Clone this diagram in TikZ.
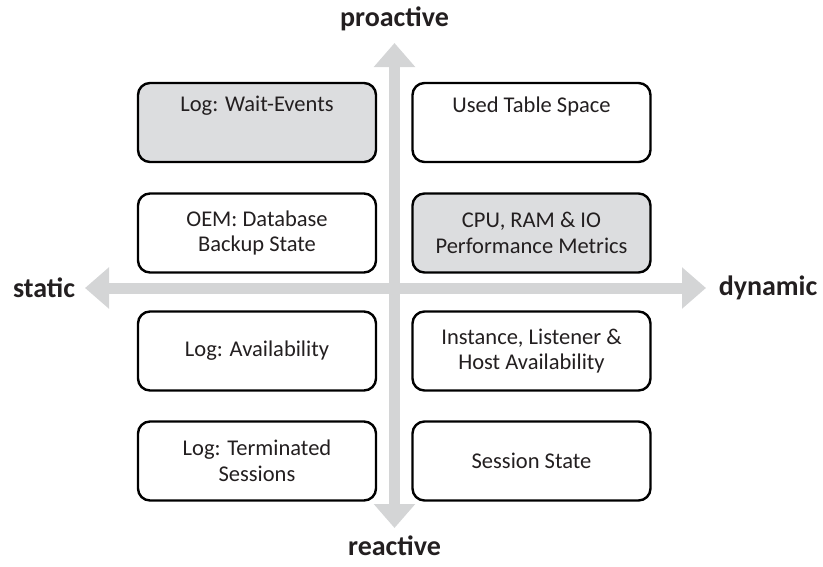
\documentclass[tikz,border=0pt]{standalone}
\usepackage{fontspec}
\setmainfont{Carlito}
\usetikzlibrary{arrows.meta}
\definecolor{axisgray}{HTML}{D4D5D6}
\definecolor{boxgray}{HTML}{DCDDDF}
\definecolor{textdark}{HTML}{231F20}
\tikzset{
  boxfont/.style={font=\fontsize{22.5}{25.5}\selectfont, text=textdark},
  quad/.style={draw=black, line width=2.4pt, rounded corners=12pt, minimum width=238pt, minimum height=79pt, inner sep=0pt, align=center, boxfont},
  shaded/.style={quad, fill=boxgray},
  plain/.style={quad, fill=white},
  axislabel/.style={font=\fontsize{28}{32}\selectfont\bfseries, text=textdark},
  axisline/.style={draw=axisgray, line width=11pt, {Triangle[width=40pt,length=24pt]}-{Triangle[width=40pt,length=24pt]}}
}
\begin{document}
\begin{tikzpicture}[x=1pt,y=-1pt]
\useasboundingbox (0,0) rectangle (823,566);
\coordinate (ntip) at (394.5,43);
\coordinate (stip) at (394.5,528);
\coordinate (wtip) at (85,288);
\coordinate (etip) at (706,288);
\draw[axisline] (ntip) -- (stip);
\draw[axisline] (wtip) -- (etip);
\node[axislabel] (pro) at (394.5,19) {proactive};
\node[axislabel] (rea) at (394.5,546) {reactive};
\node[axislabel] (sta) at (44,288) {static};
\node[axislabel] (dyn) at (768,288) {dynamic};
% row 1
\node[shaded] (wait) at (257,122.5) {};
\node[boxfont] (waitt) at (257,106) {Log: Wait-Events};
\node[plain] (used) at (531.5,122.5) {};
\node[boxfont] (usedt) at (531.5,106) {Used Table Space};
% row 2
\node[plain] (oem) at (257,233) {OEM: Database\\Backup State};
\node[shaded] (cpu) at (531.5,233) {CPU, RAM \& IO\\Performance Metrics};
% row 3
\node[plain] (avail) at (257,351) {Log: Availability};
\node[plain] (inst) at (531.5,351) {Instance, Listener \&\\Host Availability};
% row 4
\node[plain] (term) at (257,461) {Log: Terminated\\Sessions};
\node[plain] (sess) at (531.5,461) {Session State};
\end{tikzpicture}
\end{document}
